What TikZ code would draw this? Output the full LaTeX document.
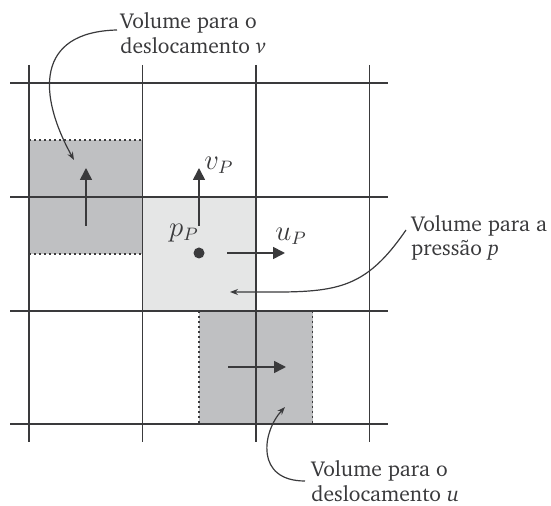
\documentclass[tikz,border=0pt]{standalone}
\usepackage[T1]{fontenc}
\usepackage{charter}
\usepackage{tikz}
\usetikzlibrary{arrows.meta}
\definecolor{lineg}{HTML}{3A3A3C}
\definecolor{darkcell}{HTML}{BFC0C2}
\definecolor{lightcell}{HTML}{E5E6E6}
\tikzset{
  gridline/.style={line width=0.75pt,lineg},
  cutline/.style={line width=0.7pt,lineg,dash pattern=on 1.2pt off 1.3pt},
  vec/.style={line width=0.8pt,lineg,-{Triangle[length=6pt,width=6pt]}},
  note/.style={line width=0.6pt,lineg,-{Stealth[length=4pt,width=3pt]}},
  notetext/.style={font=\fontsize{10.8}{12.2}\selectfont,align=left,anchor=west,inner sep=0pt,text=lineg},
  mathlbl/.style={font=\fontsize{13.5}{15}\selectfont,inner sep=0pt,text=lineg},
}

\begin{document}
\begin{tikzpicture}[x=0.5pt,y=-0.5pt]
  \useasboundingbox (0,0) rectangle (551,506);
  % control volumes
  \fill[lightcell] (142.5,197) rectangle (256,311);
  \fill[darkcell] (29,140) rectangle (142.5,254);
  \fill[darkcell] (199,311) rectangle (312.5,424);
  \draw[cutline] (29,140) -- (142.5,140) (29,254) -- (142.5,254);
  \draw[cutline] (199,311) -- (199,424) (312.5,311) -- (312.5,424);
  % grid
  \foreach \x in {29,142.5,256,369.5} \draw[gridline] (\x,65) -- (\x,442);
  \foreach \y in {83,197,311,424} \draw[gridline] (10,\y) -- (388,\y);
  % velocities and pressure
  \coordinate (vvtail) at (86,226);  \coordinate (vvtip) at (86,168);
  \coordinate (vptail) at (199,226); \coordinate (vptip) at (199,168);
  \coordinate (uptail) at (227,253); \coordinate (uptip) at (285,253);
  \coordinate (uutail) at (228,367); \coordinate (uutip) at (286,367);
  \draw[vec] (vvtail) -- (vvtip);
  \draw[vec] (vptail) -- (vptip);
  \draw[vec] (uptail) -- (uptip);
  \draw[vec] (uutail) -- (uutip);
  \node[circle,fill=lineg,inner sep=0pt,minimum size=5.5pt] (pdot) at (199,253) {};
  \node[mathlbl] (vP) at (219,165) {$v_P$};
  \node[mathlbl] (uP) at (291,236) {$u_P$};
  \node[mathlbl] (pP) at (184,233) {$p_P$};
  % annotations
  \node[notetext] (vnote) at (120,33) {Volume para o\\deslocamento \textit{v}};
  \node[notetext] (pnote) at (411,238) {Volume para a\\press\~ao \textit{p}};
  \node[notetext] (unote) at (311,481) {Volume para o\\deslocamento \textit{u}};
  \coordinate (vin) at (74,160);
  \coordinate (pin) at (230,292);
  \coordinate (uin) at (285,407);
  \draw[note] ([xshift=-1.5pt]vnote.west |- 0,30) .. controls (35,32) and (38,95) .. (vin);
  \draw[note] ([shift={(-2.5pt,4pt)}]pnote.west) .. controls (360,297) and (330,292) .. (pin);
  \draw[note] ([xshift=-3pt]unote.west) .. controls (255,481) and (262,432) .. (uin);
\end{tikzpicture}
\end{document}
